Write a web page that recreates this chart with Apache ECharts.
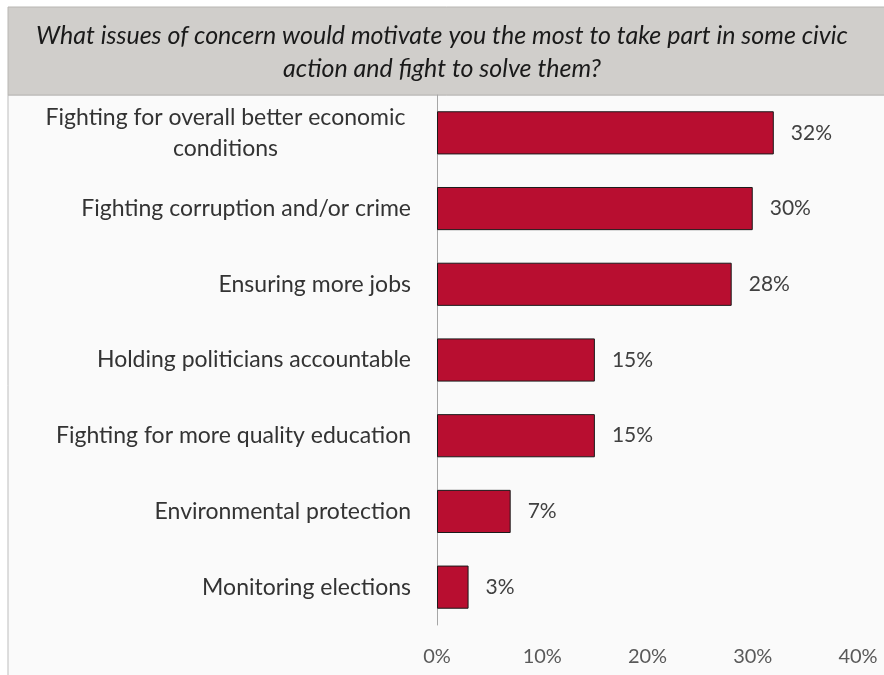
<!DOCTYPE html>
<html>
<head>
<meta charset="utf-8">
<script src="https://cdn.jsdelivr.net/npm/echarts@6/dist/echarts.min.js"></script>
<style>
  html, body { margin: 0; padding: 0; background: #ffffff; }
  #chart { width: 884px; height: 675px; }
</style>
</head>
<body>
<div id="chart"></div>
<script>
// Survey question and answers (share of respondents, %)
const titleLines = [
  'What issues of concern would motivate you the most to take part in some civic',
  'action and fight to solve them?'
];
const categories = [
  'Fighting for overall better economic\nconditions',
  'Fighting corruption and/or crime',
  'Ensuring more jobs',
  'Holding politicians accountable',
  'Fighting for more quality education',
  'Environmental protection',
  'Monitoring elections'
];
const values = [32, 30, 28, 15, 15, 7, 3];
const xTicks = [0, 10, 20, 30, 40];

const FONT = 'Lato, "Open Sans", sans-serif';

const chart = echarts.init(document.getElementById('chart'));

chart.setOption({
  backgroundColor: '#ffffff',
  animation: false,
  graphic: [
    // panel behind the plot
    {
      type: 'rect', z: -10,
      shape: { x: 8, y: 95, width: 890, height: 600 },
      style: { fill: '#fafafa', stroke: '#bdbdbd', lineWidth: 1 }
    },
    // title band
    {
      type: 'rect', z: -9,
      shape: { x: 8, y: 7, width: 890, height: 88 },
      style: { fill: '#d0cecb', stroke: '#b8b6b3', lineWidth: 1 }
    },
    {
      type: 'text', z: 10,
      left: 'center', top: 19,
      style: {
        text: titleLines.join('\n'),
        font: 'italic 25px ' + FONT,
        fill: '#1a1a1a',
        textAlign: 'center',
        lineHeight: 33
      }
    }
  ],
  grid: { left: 437, right: 26, top: 95, bottom: 50, containLabel: false },
  xAxis: {
    type: 'value',
    min: 0, max: 40, interval: 10,
    axisLine: { show: false },
    axisTick: { show: false },
    splitLine: { show: false },
    axisLabel: {
      formatter: v => xTicks.includes(v) ? v + '%' : '',
      color: '#595959',
      fontFamily: FONT,
      fontSize: 20,
      margin: 22
    }
  },
  yAxis: {
    type: 'category',
    inverse: true,
    data: categories,
    axisLine: { show: true, lineStyle: { color: '#a6a6a6', width: 1 } },
    axisTick: { show: false },
    axisLabel: {
      color: '#333333',
      fontFamily: FONT,
      fontSize: 23,
      margin: 26,
      align: 'right',
      formatter: function (v) {
        if (v.indexOf('\n') >= 0) {
          return v.split('\n').map(s => '{c|' + s + '}').join('\n');
        }
        return v;
      },
      rich: {
        c: {
          width: 371, align: 'center', lineHeight: 31,
          color: '#333333', fontFamily: FONT, fontSize: 23
        }
      }
    }
  },
  series: [{
    type: 'bar',
    data: values,
    barCategoryGap: '43%',
    itemStyle: { color: '#b80e30', borderColor: '#1a1a1a', borderWidth: 1 },
    label: {
      show: true,
      position: 'right',
      distance: 17,
      formatter: p => p.value + '%',
      color: '#404040',
      fontFamily: FONT,
      fontSize: 21
    }
  }]
});
</script>
</body>
</html>
